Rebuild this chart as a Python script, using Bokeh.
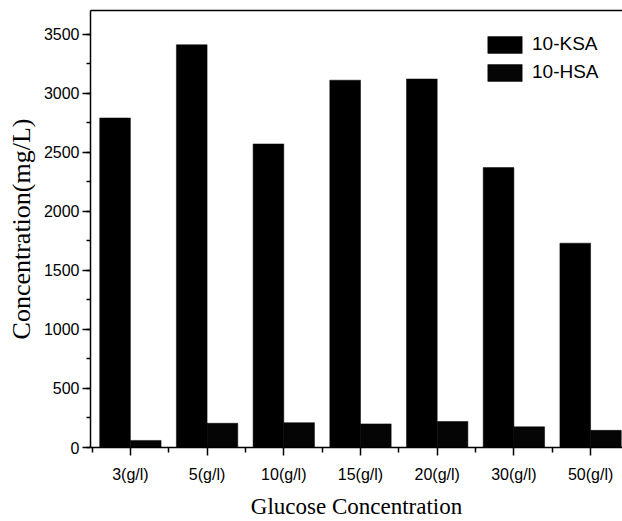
import numpy as np
from bokeh.plotting import figure
from bokeh.models import (Range1d, FixedTicker, SingleIntervalTicker, LinearAxis,
                          Legend, LegendItem, ColumnDataSource)
from bokeh.embed import file_html
from bokeh.resources import INLINE

categories = ["3(g/l)", "5(g/l)", "10(g/l)", "15(g/l)", "20(g/l)", "30(g/l)", "50(g/l)"]
ksa = [2790, 3410, 2570, 3110, 3120, 2370, 1730]
hsa = [60, 205, 210, 200, 220, 175, 145]
series_names = ["10-KSA", "10-HSA"]

idx = np.arange(len(categories))
bar_w = 0.4

p = figure(width=622, height=521, output_backend="svg", toolbar_location=None,
           x_range=Range1d(-0.52, 6.416), y_range=Range1d(0, 3700),
           min_border_left=90, min_border_right=0, min_border_top=10, min_border_bottom=73)
p.outline_line_color = None
p.xgrid.visible = False
p.ygrid.visible = False
p.background_fill_color = "white"
p.border_fill_color = "white"

src = ColumnDataSource(dict(xk=idx - bar_w / 2, xh=idx + bar_w / 2, ksa=ksa, hsa=hsa))
rk = p.vbar(x="xk", top="ksa", width=bar_w, bottom=0, source=src,
            fill_color="black", line_color="black", line_width=0.5)
rh = p.vbar(x="xh", top="hsa", width=bar_w, bottom=0, source=src,
            fill_color="#050505", line_color="black", line_width=0.5)

# x axis
xa = p.xaxis[0]
xa.ticker = FixedTicker(ticks=list(idx), minor_ticks=list(np.arange(-0.5, len(categories) + 0.5, 1.0)))
xa.major_label_overrides = {int(i): c for i, c in zip(idx, categories)}
xa.axis_label = "Glucose Concentration"
xa.axis_label_text_font = "Liberation Serif"
xa.axis_label_text_font_size = "23px"
xa.axis_label_text_font_style = "normal"
xa.axis_label_text_color = "black"
xa.axis_label_standoff = 8
xa.major_label_text_font = "Liberation Sans"
xa.major_label_text_font_size = "16px"
xa.major_label_text_color = "black"
xa.major_label_standoff = 10
xa.major_tick_in = 0
xa.major_tick_out = 8
xa.minor_tick_in = 0
xa.minor_tick_out = 5
xa.axis_line_width = 1.5
xa.major_tick_line_width = 1.5
xa.minor_tick_line_width = 1.5
xa.axis_line_color = "black"

# y axis
ya = p.yaxis[0]
ya.ticker = SingleIntervalTicker(interval=500, num_minor_ticks=2)
ya.axis_label = "Concentration(mg/L)"
ya.axis_label_text_font = "Liberation Serif"
ya.axis_label_text_font_size = "26px"
ya.axis_label_text_font_style = "normal"
ya.axis_label_text_color = "black"
ya.axis_label_standoff = 5
ya.major_label_text_font = "Liberation Sans"
ya.major_label_text_font_size = "16px"
ya.major_label_text_color = "black"
ya.major_label_standoff = 3
ya.major_tick_in = 0
ya.major_tick_out = 8
ya.minor_tick_in = 0
ya.minor_tick_out = 4
ya.axis_line_width = 1.5
ya.major_tick_line_width = 1.5
ya.minor_tick_line_width = 1.5

# top frame line
top = LinearAxis(ticker=FixedTicker(ticks=[]), major_tick_out=0, major_tick_in=0,
                 minor_tick_out=0, minor_tick_in=0, axis_line_width=1.5,
                 major_label_text_font_size="0px")
p.add_layout(top, "above")

legend = Legend(items=[LegendItem(label=series_names[0], renderers=[rk]),
                       LegendItem(label=series_names[1], renderers=[rh])],
                location=(393, 364), border_line_alpha=0, background_fill_alpha=0,
                padding=0, margin=0, spacing=6, glyph_width=43, glyph_height=21,
                label_standoff=6, label_text_font="Liberation Sans",
                label_text_font_size="19px", label_text_color="black")
p.add_layout(legend)

open("out.html", "w").write(file_html(p, INLINE))
